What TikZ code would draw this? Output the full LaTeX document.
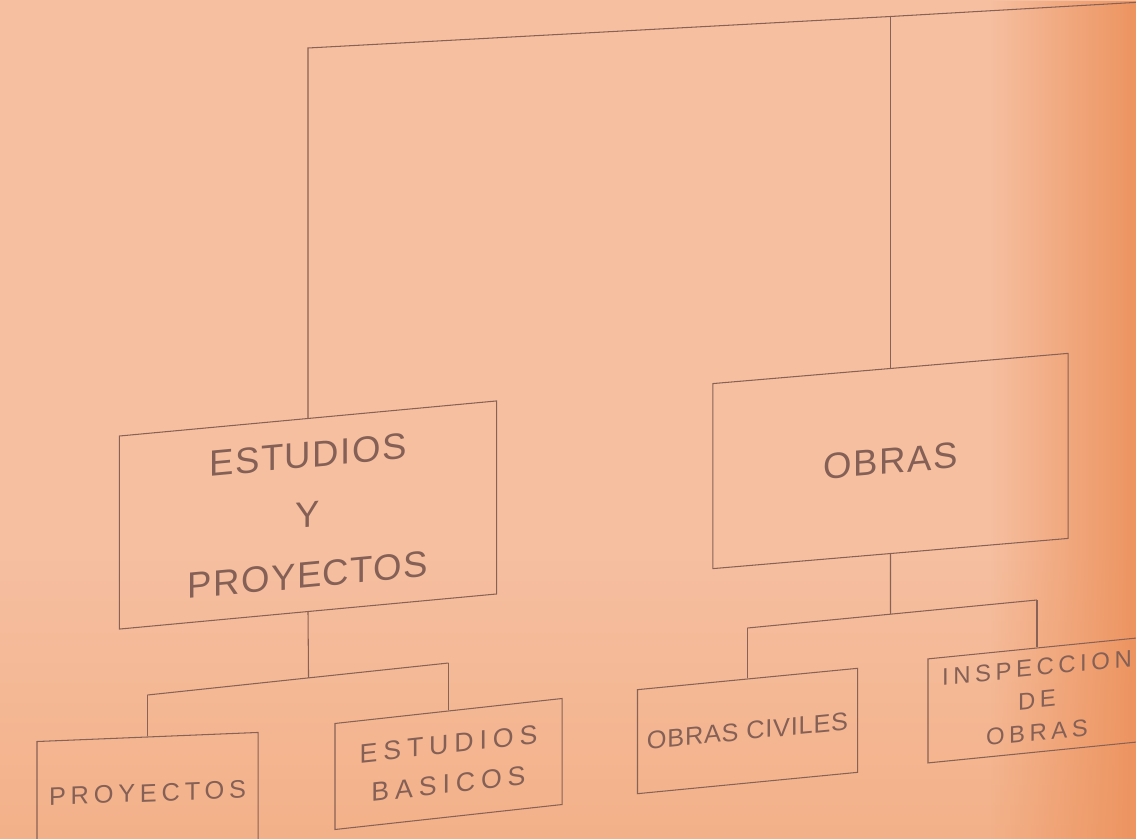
\documentclass[tikz,border=0pt]{standalone}
\usepackage{fontspec}
\setmainfont{Liberation Sans}
\newfontfamily\bigletter[LetterSpace=4]{Liberation Sans}
\newfontfamily\proyletter[LetterSpace=19]{Liberation Sans}
\newfontfamily\basicletter[LetterSpace=22]{Liberation Sans}
\newfontfamily\civletter[LetterSpace=3]{Liberation Sans}
\newfontfamily\inspletter[LetterSpace=19]{Liberation Sans}
\usetikzlibrary{calc,fadings}
\definecolor{ink}{RGB}{136,98,86}
\definecolor{txt}{RGB}{132,96,86}
\definecolor{bgA}{RGB}{246,191,160}
\definecolor{bgB}{RGB}{237,148,96}
\definecolor{bgC}{RGB}{241,166,118}
\tikzfading[name=faderight, left color=transparent!100, right color=transparent!0]
\tikzfading[name=fadedown, top color=transparent!100, bottom color=transparent!45]
\begin{document}
\begin{tikzpicture}[x=0.025cm,y=-0.025cm,
  box/.style={draw=ink, line width=0.75pt, inner sep=0pt, align=center, text=txt},
  conn/.style={draw=ink, line width=0.75pt}]
\def\px{0.7113pt}
\useasboundingbox (0,0) rectangle (1136,839);
\clip (0,0) rectangle (1136,839);
% paper
\fill[bgA] (0,0) rectangle (1136,839);
\fill[bgC, path fading=fadedown] (0,560) rectangle (1136,839);
\fill[bgB, path fading=faderight] (990,0) rectangle (1136,839);
% boxes
\node[box, yslant=0.093, minimum width=377*\px, minimum height=193*\px,
  font=\bigletter\fontsize{26}{42.7}\selectfont] (est) at (308,515) {ESTUDIOS\\Y\\PROYECTOS};
\node[box, yslant=0.085, minimum width=355*\px, minimum height=185*\px,
  font=\bigletter\fontsize{26}{30}\selectfont] (obr) at (890.5,461) {OBRAS};
\node[box, yslant=0.041, minimum width=221*\px, minimum height=112*\px,
  font=\proyletter\fontsize{18}{20}\selectfont] (proy) at (147.5,793) {PROYECTOS};
\node[box, yslant=0.11, minimum width=227*\px, minimum height=106*\px,
  font=\basicletter\fontsize{19}{28.4}\selectfont] (basic) at (448.5,764) {ESTUDIOS\\BASICOS};
\node[box, yslant=0.097, minimum width=220*\px, minimum height=104*\px,
  font=\civletter\fontsize{18}{20}\selectfont] (civ) at (747.5,731) {OBRAS CIVILES};
\node[box, yslant=0.1, minimum width=218*\px, minimum height=104*\px,
  font=\inspletter\fontsize{17}{23}\selectfont] (insp) at (1037,700) {INSPECCION\\DE\\OBRAS};
% top line
\coordinate (topL) at (308,48);
\coordinate (topM) at (890.5,16.5);
\coordinate (topR) at (1160,1);
\draw[conn] (est.north) -- (topL) -- (topM) -- (topR);
\draw[conn] (topM) -- (obr.north);
% left branch
\coordinate (bL) at (147.5,695);
\coordinate (bR) at (448.5,663);
\draw[conn] (bL) -- coordinate[pos=0.535] (bJ) (bR);
\draw[conn] (est.south) -- (bJ);
\draw[conn] (bL) -- (proy.north);
\draw[conn] (bR) -- (basic.north);
% right branch
\coordinate (cL) at (747.5,628);
\coordinate (cR) at (1037,600);
\draw[conn] (cL) -- coordinate[pos=0.494] (cJ) (cR);
\draw[conn] (obr.south) -- (cJ);
\draw[conn] (cL) -- (civ.north);
\draw[conn] (cR) -- (insp.north);
\end{tikzpicture}
\end{document}
